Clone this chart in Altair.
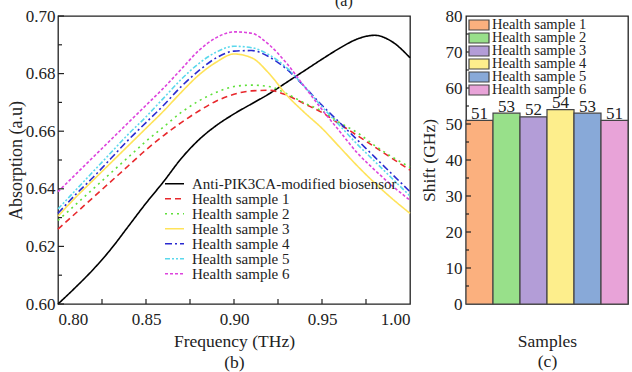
import altair as alt
import pandas as pd

# ---------------- data: panel (b) ----------------
freq = [0.80, 0.81, 0.82, 0.83, 0.84, 0.85, 0.86, 0.87, 0.88, 0.89, 0.90,
        0.91, 0.92, 0.93, 0.94, 0.95, 0.96, 0.97, 0.98, 0.99, 1.00]
anti = [0.600, 0.6058, 0.612, 0.619, 0.627, 0.635, 0.6425, 0.6505, 0.657, 0.662, 0.666,
        0.6695, 0.673, 0.677, 0.681, 0.685, 0.6888, 0.692, 0.6933, 0.691, 0.6855]
h1 = [0.626, 0.6315, 0.637, 0.6425, 0.648, 0.6535, 0.6585, 0.663, 0.667, 0.6705, 0.6728,
      0.674, 0.6742, 0.6725, 0.6695, 0.6665, 0.6625, 0.6585, 0.6545, 0.6505, 0.6465]
h2 = [0.629, 0.6345, 0.640, 0.6455, 0.651, 0.6565, 0.6615, 0.6665, 0.6705, 0.6735, 0.6755,
      0.676, 0.6755, 0.673, 0.6698, 0.667, 0.663, 0.6595, 0.655, 0.651, 0.6475]
h3 = [0.6305, 0.637, 0.643, 0.649, 0.655, 0.661, 0.667, 0.6735, 0.6795, 0.684, 0.6868,
      0.6855, 0.680, 0.6725, 0.6665, 0.661, 0.6545, 0.648, 0.642, 0.6365, 0.6315]
h4 = [0.6315, 0.638, 0.644, 0.6505, 0.657, 0.663, 0.669, 0.6755, 0.681, 0.6855, 0.6878,
      0.688, 0.6858, 0.6815, 0.6755, 0.669, 0.663, 0.657, 0.651, 0.645, 0.639]
h5 = [0.633, 0.6395, 0.646, 0.6525, 0.659, 0.665, 0.6715, 0.678, 0.6835, 0.6875, 0.6895,
      0.689, 0.6865, 0.682, 0.6755, 0.6685, 0.662, 0.6555, 0.6495, 0.6435, 0.6375]
h6 = [0.639, 0.645, 0.651, 0.657, 0.663, 0.669, 0.675, 0.6815, 0.688, 0.6925, 0.6945,
      0.694, 0.690, 0.6835, 0.6755, 0.6675, 0.660, 0.6525, 0.6465, 0.641, 0.636]

series_names = ["Anti-PIK3CA-modified biosensor", "Health sample 1", "Health sample 2",
                "Health sample 3", "Health sample 4", "Health sample 5", "Health sample 6"]
series_values = [anti, h1, h2, h3, h4, h5, h6]
line_colors = ["#000000", "#e8282c", "#5fe03a", "#ffe35a", "#2a2ad0", "#5ad8ec", "#dd44dd"]
line_dashes = [[1, 0], [6, 4], [2, 4], [1, 0], [7, 3, 2, 3], [5, 2, 2, 2, 2, 2], [3, 2]]
line_widths = [1.6, 1.6, 1.8, 1.2, 1.6, 1.6, 1.6]

y_major = [0.60, 0.62, 0.64, 0.66, 0.68, 0.70]
y_minor = [0.61, 0.63, 0.65, 0.67, 0.69]
x_labels = [0.80, 0.85, 0.90, 0.95, 1.00]
x_ticks = [0.825, 0.85, 0.875, 0.90, 0.925, 0.95, 0.975]

# ---------------- data: panel (c) ----------------
samples = ["Health sample 1", "Health sample 2", "Health sample 3",
           "Health sample 4", "Health sample 5", "Health sample 6"]
shifts = [51, 53, 52, 54, 53, 51]
bar_colors = ["#fbb07e", "#98e08a", "#b39dd7", "#fdee8c", "#88a9d8", "#e8a3d8"]
bar_y_labels = [0, 10, 20, 30, 40, 50, 60, 70, 80]
bar_y_major = [10, 20, 30, 40, 50, 60, 70]
bar_y_minor = [5, 15, 25, 35, 45, 55, 65, 75]

FONT = "Liberation Serif"
W1, H = 352, 288
W2 = 162
GAP = 56

rows = []
for name, vals in zip(series_names, series_values):
    for f, v in zip(freq, vals):
        rows.append({"freq": f, "absorption": v, "series": name})
line_df = pd.DataFrame(rows)

xscale = alt.Scale(domain=[0.8, 1.0], nice=False, zero=False)
yscale = alt.Scale(domain=[0.6, 0.7], nice=False, zero=False)

x_axis_b = alt.Axis(values=x_labels, format=".2f", ticks=False, domain=False,
                    grid=False, labelPadding=7, labelFontSize=17,
                    title=["Frequency (THz)", "(b)"], titlePadding=5,
                    titleFontSize=17.5, titleLineHeight=21)
y_axis_b = alt.Axis(values=y_major, format=".2f", ticks=False, domain=False,
                    grid=False, labelPadding=3, labelFontSize=17,
                    title="Absorption (a.u)", titlePadding=0, titleFontSize=18)

leg_b = alt.Legend(orient="none", legendX=106, legendY=161, title=None,
                   symbolType="stroke", symbolSize=361, symbolStrokeWidth=1.8,
                   labelFont=FONT, labelFontSize=15, labelColor="#222",
                   clipHeight=13.4, rowPadding=-5.2, labelOffset=7, padding=0, labelLimit=400)

lines = alt.Chart(line_df).mark_line(interpolate="monotone").encode(
    x=alt.X("freq:Q", scale=xscale, axis=x_axis_b),
    y=alt.Y("absorption:Q", scale=yscale, axis=y_axis_b),
    color=alt.Color("series:N", scale=alt.Scale(domain=series_names, range=line_colors), legend=leg_b),
    strokeDash=alt.StrokeDash("series:N", scale=alt.Scale(domain=series_names, range=line_dashes), legend=leg_b),
    strokeWidth=alt.StrokeWidth("series:N", scale=alt.Scale(domain=series_names, range=line_widths), legend=None),
)

ymaj_df = pd.DataFrame({"absorption": y_major})
ymin_df = pd.DataFrame({"absorption": y_minor})
xt_df = pd.DataFrame({"freq": x_ticks})

ytick_major = alt.Chart(ymaj_df).mark_rule(color="#222", strokeWidth=1.2).encode(
    y=alt.Y("absorption:Q", scale=yscale, axis=y_axis_b), x=alt.value(0), x2=alt.value(6))
ytick_minor = alt.Chart(ymin_df).mark_rule(color="#222", strokeWidth=1.2).encode(
    y=alt.Y("absorption:Q", scale=yscale, axis=y_axis_b), x=alt.value(0), x2=alt.value(4))
xtick = alt.Chart(xt_df).mark_rule(color="#222", strokeWidth=1.2).encode(
    x=alt.X("freq:Q", scale=xscale, axis=x_axis_b), y=alt.value(H), y2=alt.value(H - 5))

left = alt.layer(lines, ytick_major, ytick_minor, xtick).properties(
    width=W1, height=H,
    title=alt.TitleParams("(a)", anchor="start", frame="group", dx=277, offset=-15,
                          baseline="alphabetic", fontSize=16, font=FONT, fontWeight="normal",
                          color="#222"))

# ---------------- panel (c) ----------------
bar_df = pd.DataFrame({"sample": samples, "shift": shifts})
bscale_y = alt.Scale(domain=[0, 80], nice=False)

x_axis_c = alt.Axis(labels=False, ticks=False, domain=False, grid=False,
                    title=["Samples", "(c)"], titlePadding=28,
                    titleFontSize=17.5, titleLineHeight=20)
y_axis_c = alt.Axis(values=bar_y_labels, ticks=False, domain=False, grid=False,
                    labelPadding=4, labelFontSize=17,
                    title="Shift (GHz)", titlePadding=7, titleFontSize=17.5)

leg_c = alt.Legend(orient="none", legendX=W1 + GAP + 2, legendY=2.5, title=None,
                   symbolType="M-1,-0.5H1V0.5H-1Z", symbolSize=400,
                   symbolStrokeColor="#444", symbolStrokeWidth=1.2,
                   labelFont=FONT, labelFontSize=14.5, labelColor="#222",
                   clipHeight=13, rowPadding=-7, labelOffset=2, padding=0, labelLimit=300)

bars = alt.Chart(bar_df).mark_bar(stroke="#444", strokeWidth=1.2).encode(
    x=alt.X("sample:N", sort=samples, scale=alt.Scale(paddingInner=0, paddingOuter=0), axis=x_axis_c),
    y=alt.Y("shift:Q", scale=bscale_y, axis=y_axis_c),
    fill=alt.Fill("sample:N", scale=alt.Scale(domain=samples, range=bar_colors), legend=leg_c),
)

bar_text = alt.Chart(bar_df).mark_text(baseline="alphabetic", dy=-1.5, fontSize=17,
                                       font=FONT, color="#222").encode(
    x=alt.X("sample:N", sort=samples, axis=x_axis_c),
    y=alt.Y("shift:Q", scale=bscale_y, axis=y_axis_c),
    text=alt.Text("shift:Q"))

bmaj_df = pd.DataFrame({"shift": bar_y_major})
bmin_df = pd.DataFrame({"shift": bar_y_minor})
btick_major = alt.Chart(bmaj_df).mark_rule(color="#222", strokeWidth=1.2).encode(
    y=alt.Y("shift:Q", scale=bscale_y, axis=y_axis_c), x=alt.value(0), x2=alt.value(5))
btick_minor = alt.Chart(bmin_df).mark_rule(color="#222", strokeWidth=1.2).encode(
    y=alt.Y("shift:Q", scale=bscale_y, axis=y_axis_c), x=alt.value(0), x2=alt.value(3))

right = alt.layer(bars, bar_text, btick_major, btick_minor).properties(width=W2, height=H)

chart = alt.hconcat(left, right, spacing=GAP, bounds="flush").properties(
    autosize=alt.AutoSizeParams(type="none"),
    padding={"left": 58, "top": 16, "right": 574, "bottom": 356},
).configure(font=FONT).configure_view(
    stroke="#222", strokeWidth=1.3
).configure_axis(
    labelColor="#222", titleColor="#222", labelFont=FONT, titleFont=FONT,
    titleFontWeight="normal"
)

chart.save("out.html", embed_options={"renderer": "svg", "actions": False})
